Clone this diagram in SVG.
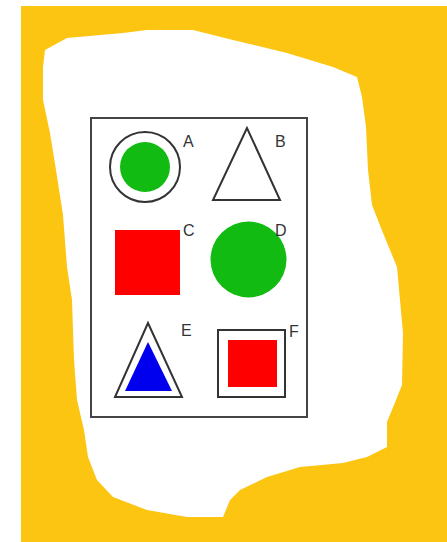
<svg xmlns="http://www.w3.org/2000/svg" width="447" height="542" viewBox="0 0 447 542">
<style>
.lbl{font-family:"Liberation Sans",Arial,sans-serif;font-size:16px;fill:#333}
.ol{fill:none;stroke:#333;stroke-width:2}
.red{fill:#f00}
.green{fill:#11bb11}
</style>
<rect width="447" height="542" fill="#fff"/>
<rect x="21" y="6" width="426" height="536" fill="#fcc512"/>
<path d="M45,50 L67,38 L123,33 L147,30 L193,30 L233,40 L287,53 L333,67 L357,77 L362,97 L366,127 L368,170 L372,205 L383,233 L397,267 L403,333 L402,385 L394,405 L387,422 L387,447 L367,457 L343,463 L300,467 L267,477 L240,490 L230,500 L223,517 L187,517 L147,510 L113,497 L97,480 L88,457 L84,430 L77,400 L74,360 L72,300 L67,267 L63,215 L56,170 L50,133 L43,100 L43,67 Z" fill="#fff"/>
<g id="frame"><rect x="91" y="118" width="216" height="299" fill="#fff" stroke="#444" stroke-width="2"/></g>
<g id="connectors"/>
<g id="A">
<circle cx="145" cy="167" r="35" class="ol"/>
<circle cx="145" cy="167" r="25" class="green"/>
<text x="183" y="147" class="lbl">A</text>
</g>
<g id="B">
<polygon points="247,128 213,200 280,200" class="ol"/>
<text x="275" y="147" class="lbl">B</text>
</g>
<g id="C">
<rect x="115" y="230" width="65" height="65" class="red"/>
<text x="183" y="236" class="lbl">C</text>
</g>
<g id="D">
<circle cx="248.5" cy="259.5" r="38" class="green"/>
<text x="275" y="236" class="lbl">D</text>
</g>
<g id="E">
<polygon points="148,323 115,397 182,397" class="ol"/>
<polygon points="148,342 125,391 172,391" fill="#0000ee"/>
<text x="181" y="336" class="lbl">E</text>
</g>
<g id="F">
<rect x="218" y="330" width="67" height="67" class="ol"/>
<rect x="228" y="340" width="49" height="47" class="red"/>
<text x="289" y="337" class="lbl">F</text>
</g>
</svg>
